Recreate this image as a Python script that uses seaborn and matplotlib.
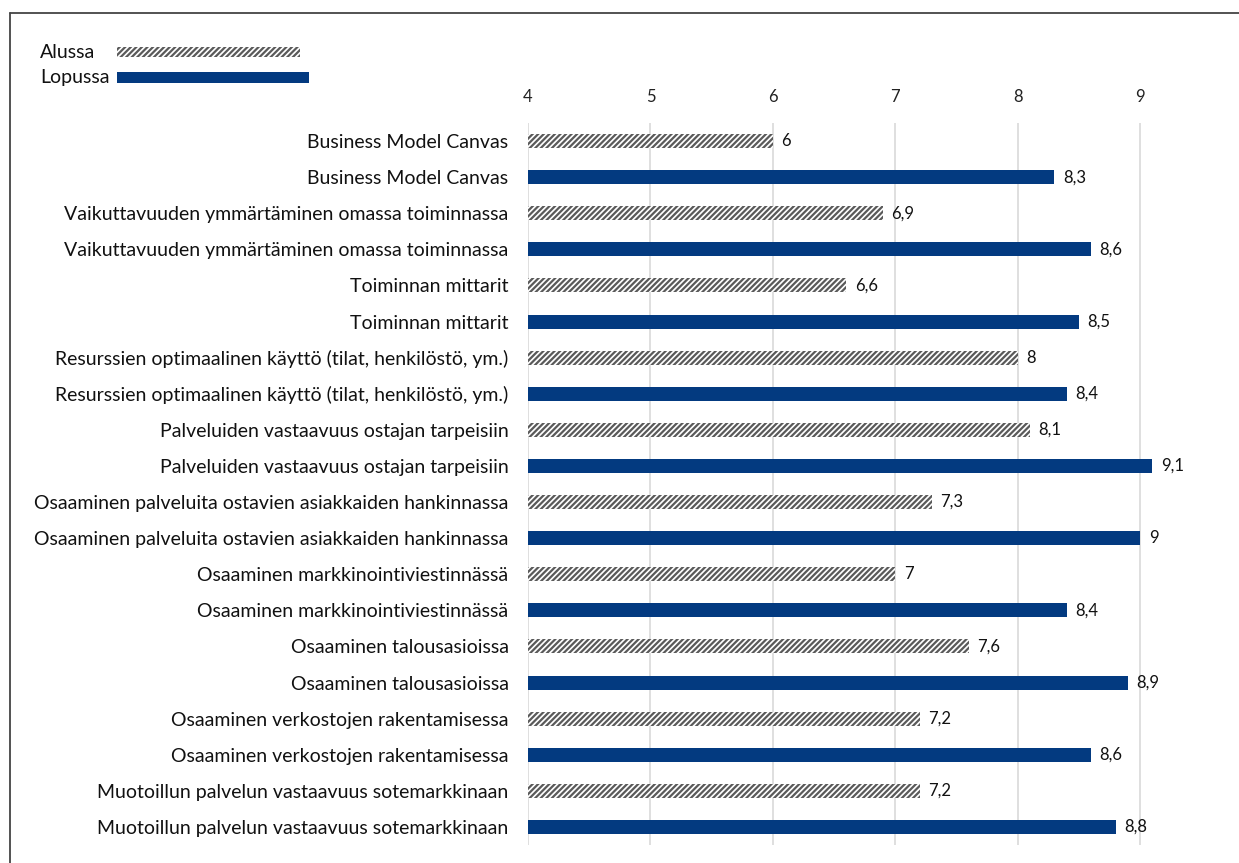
import matplotlib
matplotlib.use("Agg")
import matplotlib.pyplot as plt
import matplotlib.lines as mlines
from matplotlib.patches import Rectangle
import seaborn as sns
import pandas as pd

topics = [
    "Business Model Canvas",
    "Vaikuttavuuden ymmärtäminen omassa toiminnassa",
    "Toiminnan mittarit",
    "Resurssien optimaalinen käyttö (tilat, henkilöstö, ym.)",
    "Palveluiden vastaavuus ostajan tarpeisiin",
    "Osaaminen palveluita ostavien asiakkaiden hankinnassa",
    "Osaaminen markkinointiviestinnässä",
    "Osaaminen talousasioissa",
    "Osaaminen verkostojen rakentamisessa",
    "Muotoillun palvelun vastaavuus sotemarkkinaan",
]
alussa = [6, 6.9, 6.6, 8, 8.1, 7.3, 7, 7.6, 7.2, 7.2]
lopussa = [8.3, 8.6, 8.5, 8.4, 9.1, 9, 8.4, 8.9, 8.6, 8.8]
series = ["Alussa", "Lopussa"]
xticks = [4, 5, 6, 7, 8, 9]

rows = []
labels = []
for t, a, l in zip(topics, alussa, lopussa):
    rows.append({"row": str(len(rows)), "series": "Alussa", "value": a})
    labels.append(t)
    rows.append({"row": str(len(rows)), "series": "Lopussa", "value": l})
    labels.append(t)
df = pd.DataFrame(rows)

navy = "#033A80"
hatch_col = "#5a5a5a"

sns.set_theme(style="white")
plt.rcParams["font.family"] = ["Lato", "DejaVu Sans"]
plt.rcParams["hatch.linewidth"] = 1.6

W, H = 1239, 863
fig = plt.figure(figsize=(W / 100, H / 100), dpi=100)
ax = fig.add_axes([528 / W, 1 - 845 / H, (1183 - 528) / W, (845 - 123) / H])

sns.barplot(data=df, y="row", x="value", hue="series", dodge=False,
            palette={"Alussa": "white", "Lopussa": navy}, width=0.39,
            orient="h", ax=ax, legend=False)

for cont, s in zip(ax.containers, series):
    for p in cont.patches:
        if s == "Alussa":
            p.set_facecolor("white")
            p.set_edgecolor(hatch_col)
            p.set_hatch("//////")
            p.set_linewidth(0)
        else:
            p.set_facecolor(navy)
            p.set_linewidth(0)

ax.set_xlim(4, 9.35)
ax.set_ylim(19.5, -0.5)
ax.set_xticks(xticks)
ax.set_xticklabels([str(v) for v in xticks], fontsize=12, color="#222222")
ax.xaxis.tick_top()
ax.tick_params(axis="x", length=0, pad=13)
ax.set_yticks(range(len(labels)))
ax.set_yticklabels(labels, fontsize=14, color="#111111")
ax.tick_params(axis="y", length=0, pad=14)
ax.set_xlabel("")
ax.set_ylabel("")
ax.xaxis.grid(True, color="#d9d9d9", linewidth=1.2)
ax.set_axisbelow(True)
for sp in ax.spines.values():
    sp.set_visible(False)

for i, r in df.iterrows():
    txt = f"{r['value']:g}".replace(".", ",")
    ax.text(r["value"] + 0.07, i, txt, va="center", ha="left",
            fontsize=12, color="#111111")

# legend (drawn as figure artists)
fig.text(40 / W, 1 - 52 / H, series[0], fontsize=14, va="center", ha="left", color="#111111")
fig.text(40 / W, 1 - 78 / H, series[1], fontsize=14, va="center", ha="left", color="#111111")
fig.add_artist(Rectangle((117 / W, 1 - 57 / H), (300 - 117) / W, 10 / H,
                         transform=fig.transFigure, facecolor="white",
                         edgecolor=hatch_col, hatch="//////", linewidth=0))
fig.add_artist(Rectangle((117 / W, 1 - 83 / H), (309 - 117) / W, 11 / H,
                         transform=fig.transFigure, facecolor=navy, linewidth=0))

# figure border (left and top)
fig.add_artist(mlines.Line2D([10 / W, 10 / W], [0, 1 - 13 / H],
                             transform=fig.transFigure, color="#444444", linewidth=1.3))
fig.add_artist(mlines.Line2D([10 / W, 1], [1 - 13 / H, 1 - 13 / H],
                             transform=fig.transFigure, color="#444444", linewidth=1.3))

fig.savefig("out.png", dpi=100)
